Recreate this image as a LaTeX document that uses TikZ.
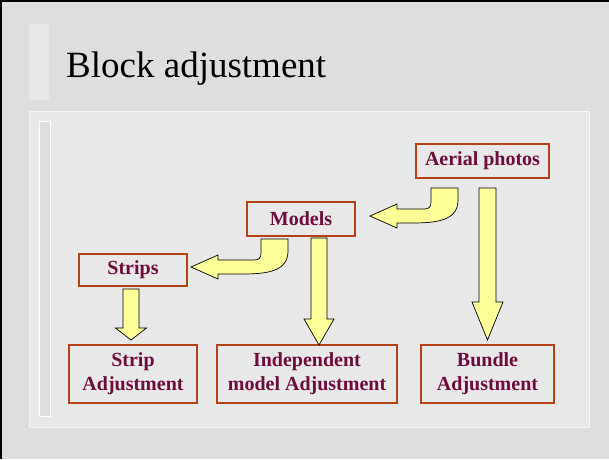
\documentclass[tikz,border=0pt]{standalone}
\usepackage{fontspec}
\setmainfont{Liberation Serif}
\usetikzlibrary{calc}
\definecolor{Marble}{RGB}{222,222,224}
\definecolor{PanelGray}{RGB}{232,232,232}
\definecolor{Maroon}{RGB}{110,12,62}
\definecolor{BoxRust}{RGB}{180,66,20}
\definecolor{ArrowYellow}{RGB}{255,255,153}

% straight block arrow: #1 top centre, #2 tip, #3 half shaft, #4 half head, #5 head length
\newcommand{\fatarrow}[5]{%
  \draw[blockarrow] let \p1=(#1), \p2=(#2) in
    (\x1-#3,\y1) -- (\x1+#3,\y1) -- (\x1+#3,\y2+#5) -- (\x1+#4,\y2+#5)
    -- (\x1,\y2) -- (\x1-#4,\y2+#5) -- (\x1-#3,\y2+#5) -- cycle;}
% bent block arrow, down then left: #1 top left corner of stem, #2 tip
\newcommand{\bentarrow}[2]{%
  \draw[blockarrow] let \p1=(#1), \p2=(#2) in
    (\x1,\y1) -- (\x1+27pt,\y1) -- (\x1+27pt,\y1-12pt)
    .. controls (\x1+27pt,\y1-33pt) and (\x1+5pt,\y1-35pt) .. (\x1-20pt,\y1-35pt)
    -- (\x2+27pt,\y1-35pt) -- (\x2+27pt,\y2-12pt) -- (\x2,\y2) -- (\x2+27pt,\y2+12pt)
    -- (\x2+27pt,\y1-21pt) -- (\x1-7pt,\y1-21pt)
    .. controls (\x1-2pt,\y1-21pt) and (\x1,\y1-19pt) .. (\x1,\y1-14pt) -- cycle;}

\begin{document}
\begin{tikzpicture}[x=1pt,y=-1pt,
    box/.style={
      rectangle, draw=BoxRust, line width=1.6pt,
      inner sep=0pt, outer sep=0pt,
      text=Maroon, font=\fontsize{20}{24}\selectfont\bfseries, align=center
    },
    blockarrow/.style={draw=black, line width=0.7pt, fill=ArrowYellow}
  ]
    \useasboundingbox (0,0) rectangle (609,459);
    % slide background
    \fill[Marble] (0,0) rectangle (609,459);
    \draw[line width=3pt] (0,459) -- (0,0) -- (609,0);
    \fill[PanelGray] (29,24) rectangle (49,100);
    \node[anchor=base west, inner sep=0pt, font=\fontsize{37}{40}\selectfont] (title) at (66,77) {Block adjustment};
    \filldraw[fill=PanelGray, draw=white!92!gray] (29,111) rectangle (589,427);
    \filldraw[fill=Marble, draw=white] (39,121) rectangle (50,416);

    \node[box, minimum width=133pt, minimum height=34pt] (aerial)   at (482.5,161) {Aerial photos};
    \node[box, minimum width=108pt, minimum height=34pt] (models)   at (301,219)   {Models};
    \node[box, minimum width=108pt, minimum height=32pt] (strips)   at (133,270)   {Strips};
    \node[box, minimum width=128pt, minimum height=58pt] (stripadj) at (133,374)   {Strip\\Adjustment};
    \node[box, minimum width=180pt, minimum height=58pt] (indep)    at (307,374)   {Independent\\model Adjustment};
    \node[box, minimum width=133pt, minimum height=58pt] (bundle)   at (487.5,374) {Bundle\\Adjustment};

    \coordinate (a1) at ($(aerial.south -| bundle.north)+(0,10)$);
    \coordinate (a2) at ($(bundle.north)+(0,-5)$);
    \fatarrow{a1}{a2}{8.5pt}{15.5pt}{38pt}

    \coordinate (b1) at ($(models.south)+(18,2)$);
    \coordinate (b2) at (b1 |- indep.north);
    \fatarrow{b1}{b2}{8pt}{15pt}{26pt}

    \coordinate (c1) at ($(strips.south)+(-2,3)$);
    \coordinate (c2) at ($(c1 |- stripadj.north)+(0,-5)$);
    \fatarrow{c1}{c2}{8pt}{15.5pt}{12pt}

    \coordinate (d1) at ($(aerial.south west)+(15,10)$);
    \coordinate (d2) at ($(models.east)+(15,-3)$);
    \bentarrow{d1}{d2}

    \coordinate (e1) at ($(models.south west)+(14,3)$);
    \coordinate (e2) at ($(strips.east)+(4,-3)$);
    \bentarrow{e1}{e2}
  \end{tikzpicture}
\end{document}
